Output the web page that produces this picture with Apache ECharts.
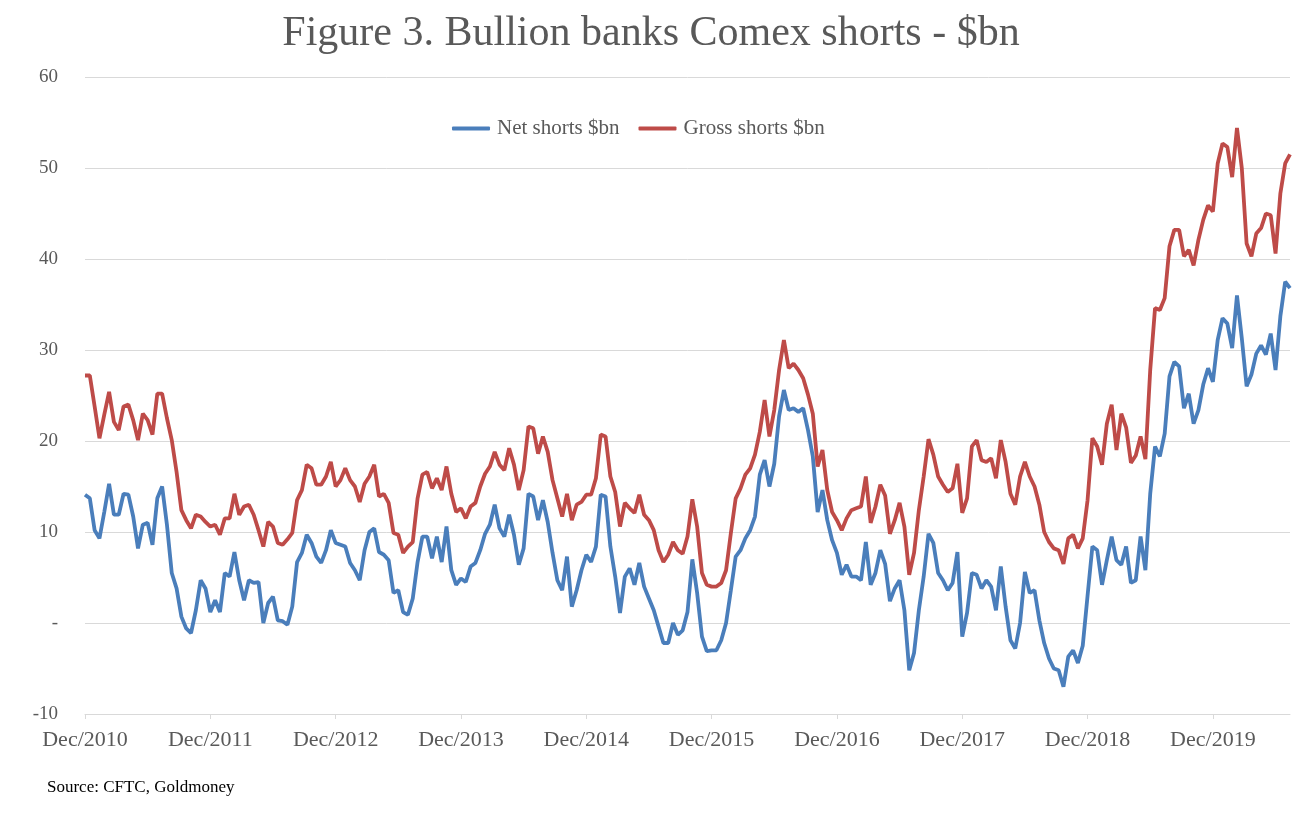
<!DOCTYPE html>
<html lang="en">
<head>
  <meta charset="UTF-8">
  <title>Bullion banks Comex shorts</title>
  <script src="https://cdn.jsdelivr.net/npm/echarts@6/dist/echarts.min.js"></script>
  <style>
    html, body {
      margin: 0;
      padding: 0;
      background: #ffffff;
    }
    #chart {
      width: 1302px;
      height: 837px;
    }
  </style>
</head>
<body>
  <div id="chart"></div>

  <script>
    // fortnightly points, starting at the first week of Dec 2010
    const startDate = '2010-12-07';
    const stepDays = 14;

    const tickLabels = ['Dec/2010', 'Dec/2011', 'Dec/2012', 'Dec/2013', 'Dec/2014',
      'Dec/2015', 'Dec/2016', 'Dec/2017', 'Dec/2018', 'Dec/2019'];
    const pointsPerTick = 26;

    const netShorts = [
      14.1, 13.7, 10.2, 9.3, 12.2, 15.3, 11.9, 11.9, 14.2, 14.1,
      11.7, 8.2, 10.8, 11.0, 8.6, 13.7, 15.0, 10.8, 5.5, 3.8,
      0.7, -0.6, -1.1, 1.4, 4.7, 3.8, 1.2, 2.5, 1.2, 5.5,
      5.1, 7.8, 4.7, 2.5, 4.7, 4.4, 4.5, 0.0, 2.2, 2.9,
      0.3, 0.2, -0.2, 1.8, 6.7, 7.7, 9.7, 8.8, 7.3, 6.6,
      8.0, 10.2, 8.8, 8.6, 8.4, 6.6, 5.8, 4.7, 8.0, 10.0,
      10.4, 7.8, 7.5, 6.9, 3.3, 3.6, 1.2, 0.9, 2.7, 6.7,
      9.5, 9.5, 7.1, 9.5, 6.7, 10.6, 5.8, 4.2, 4.9, 4.5,
      6.2, 6.6, 8.0, 9.8, 10.8, 13.0, 10.4, 9.5, 11.9, 9.7,
      6.4, 8.2, 14.2, 13.9, 11.3, 13.5, 11.1, 7.7, 4.7, 3.6,
      7.3, 1.8, 3.6, 5.8, 7.5, 6.7, 8.4, 14.1, 13.9, 8.4,
      5.1, 1.1, 5.1, 6.0, 4.2, 6.6, 4.0, 2.7, 1.4, -0.4,
      -2.2, -2.2, 0.0, -1.3, -0.8, 1.2, 7.0, 3.3, -1.5, -3.1,
      -3.0, -3.0, -1.9, 0.0, 3.6, 7.3, 8.0, 9.3, 10.2, 11.7,
      16.3, 17.9, 15.0, 17.5, 22.7, 25.6, 23.4, 23.6, 23.2, 23.6,
      21.2, 18.3, 12.2, 14.6, 11.3, 9.1, 7.7, 5.3, 6.4, 5.1,
      5.1, 4.7, 8.9, 4.2, 5.5, 8.0, 6.5, 2.4, 3.8, 4.7,
      1.4, -5.2, -3.3, 1.4, 5.1, 9.8, 8.8, 5.5, 4.7, 3.6,
      4.4, 7.8, -1.5, 1.1, 5.5, 5.3, 3.8, 4.7, 4.0, 1.4,
      6.2, 1.8, -1.9, -2.8, 0.0, 5.6, 3.3, 3.6, 0.3, -2.2,
      -3.9, -5.0, -5.2, -7.0, -3.7, -3.0, -4.4, -2.5, 3.0, 8.4,
      8.0, 4.2, 6.9, 9.5, 6.9, 6.4, 8.4, 4.4, 4.7, 9.5,
      5.8, 14.2, 19.4, 18.3, 20.8, 27.1, 28.7, 28.2, 23.6, 25.2,
      21.9, 23.4, 26.2, 28.0, 26.5, 31.1, 33.5, 32.9, 30.2, 36.0,
      31.3, 26.0, 27.3, 29.6, 30.5, 29.5, 31.8, 27.8, 33.7, 37.5,
      36.8
    ];

    const grossShorts = [
      27.2, 27.2, 23.8, 20.3, 22.9, 25.4, 22.1, 21.2, 23.8, 24.0,
      22.3, 20.1, 23.0, 22.3, 20.7, 25.2, 25.2, 22.5, 20.1, 16.6,
      12.4, 11.3, 10.4, 11.9, 11.7, 11.1, 10.6, 10.8, 9.7, 11.5,
      11.5, 14.2, 11.9, 12.8, 13.0, 11.9, 10.2, 8.4, 11.1, 10.6,
      8.8, 8.6, 9.2, 9.9, 13.5, 14.6, 17.4, 17.0, 15.2, 15.2,
      16.1, 17.7, 15.0, 15.7, 17.0, 15.7, 15.0, 13.3, 15.3, 16.1,
      17.4, 13.9, 14.2, 13.2, 9.9, 9.7, 7.7, 8.4, 8.9, 13.7,
      16.3, 16.6, 14.8, 15.9, 14.6, 17.2, 14.2, 12.2, 12.6, 11.5,
      12.8, 13.2, 15.0, 16.4, 17.2, 18.8, 17.4, 16.8, 19.2, 17.4,
      14.6, 16.8, 21.6, 21.4, 18.6, 20.5, 18.8, 15.7, 13.7, 11.7,
      14.2, 11.3, 13.0, 13.3, 14.1, 14.1, 15.9, 20.7, 20.5, 16.1,
      14.4, 10.6, 13.2, 12.6, 12.1, 14.1, 11.9, 11.3, 10.2, 8.0,
      6.7, 7.5, 8.9, 8.0, 7.6, 9.5, 13.6, 10.6, 5.5, 4.2,
      4.0, 4.0, 4.4, 5.8, 9.9, 13.7, 14.8, 16.3, 17.0, 18.5,
      21.0, 24.5, 20.5, 23.4, 27.8, 31.1, 28.0, 28.5, 27.8, 26.9,
      25.1, 23.0, 17.2, 19.0, 14.6, 12.2, 11.3, 10.2, 11.5, 12.4,
      12.6, 12.8, 16.1, 11.0, 12.8, 15.2, 14.0, 9.8, 11.3, 13.2,
      10.6, 5.3, 7.7, 12.4, 16.1, 20.2, 18.5, 16.1, 15.2, 14.4,
      14.8, 17.5, 12.1, 13.7, 19.4, 20.1, 17.9, 17.7, 18.1, 15.9,
      20.1, 17.7, 14.2, 13.0, 16.1, 17.7, 16.1, 15.0, 13.0, 10.0,
      8.9, 8.2, 8.0, 6.5, 9.3, 9.7, 8.2, 9.3, 13.5, 20.3,
      19.4, 17.4, 21.9, 24.0, 19.0, 23.0, 21.5, 17.6, 18.4, 20.5,
      18.0, 27.8, 34.6, 34.4, 35.7, 41.4, 43.2, 43.2, 40.3, 41.0,
      39.3, 42.1, 44.3, 45.9, 45.2, 50.5, 52.7, 52.3, 49.0, 54.4,
      50.0, 41.7, 40.3, 42.8, 43.4, 45.0, 44.8, 40.6, 47.2, 50.5,
      51.5
    ];

    // date categories for the x axis
    const dates = [];
    const t0 = new Date(startDate + 'T00:00:00Z').getTime();
    for (let i = 0; i < netShorts.length; i++) {
      dates.push(new Date(t0 + i * stepDays * 86400000).toISOString().slice(0, 10));
    }

    const serif = '"Liberation Serif", "DejaVu Serif", serif';
    const textGrey = '#595959';
    const gridGrey = '#d9d9d9';
    const onTick = function (index) { return index % pointsPerTick === 0; };

    const chart = echarts.init(document.getElementById('chart'));

    chart.setOption({
      animation: false,
      backgroundColor: '#ffffff',
      title: {
        text: 'Figure 3. Bullion banks Comex shorts - $bn',
        left: 'center',
        top: 8,
        textStyle: {
          fontFamily: serif,
          fontSize: 42,
          fontWeight: 'normal',
          color: textGrey
        }
      },
      legend: {
        top: 113,
        left: 447,
        icon: 'roundRect',
        itemWidth: 38,
        itemHeight: 4,
        itemGap: 19,
        textStyle: {
          fontFamily: serif,
          fontSize: 21,
          color: textGrey,
          padding: [0, 0, 0, 2]
        },
        data: ['Net shorts $bn', 'Gross shorts $bn']
      },
      grid: {
        left: 85,
        right: 12,
        top: 77,
        bottom: 123,
        containLabel: false
      },
      xAxis: {
        type: 'category',
        data: dates,
        boundaryGap: false,
        axisLine: { onZero: false, lineStyle: { color: gridGrey, width: 1 } },
        axisTick: { show: true, interval: onTick, length: 5, lineStyle: { color: gridGrey } },
        axisLabel: {
          interval: onTick,
          margin: 15,
          fontFamily: serif,
          fontSize: 22,
          color: textGrey,
          formatter: function (value, index) {
            return tickLabels[Math.round(index / pointsPerTick)] || '';
          }
        },
        splitLine: { show: false }
      },
      yAxis: {
        type: 'value',
        min: -10,
        max: 60,
        interval: 10,
        axisLine: { show: false },
        axisTick: { show: false },
        axisLabel: {
          margin: 27,
          fontFamily: serif,
          fontSize: 19,
          color: textGrey,
          formatter: function (v) { return v === 0 ? '-' : String(v); }
        },
        splitLine: { lineStyle: { color: gridGrey, width: 1 } }
      },
      graphic: [{
        type: 'text',
        left: 47,
        top: 779,
        style: {
          text: 'Source: CFTC, Goldmoney',
          fontFamily: serif,
          fontSize: 17,
          fill: '#000000'
        }
      }],
      series: [
        {
          name: 'Net shorts $bn',
          type: 'line',
          data: netShorts,
          showSymbol: false,
          symbol: 'none',
          lineStyle: { color: '#4a7ebb', width: 3.8 },
          itemStyle: { color: '#4a7ebb' }
        },
        {
          name: 'Gross shorts $bn',
          type: 'line',
          data: grossShorts,
          showSymbol: false,
          symbol: 'none',
          lineStyle: { color: '#be4b48', width: 3.8 },
          itemStyle: { color: '#be4b48' }
        }
      ]
    });
  </script>
</body>
</html>
